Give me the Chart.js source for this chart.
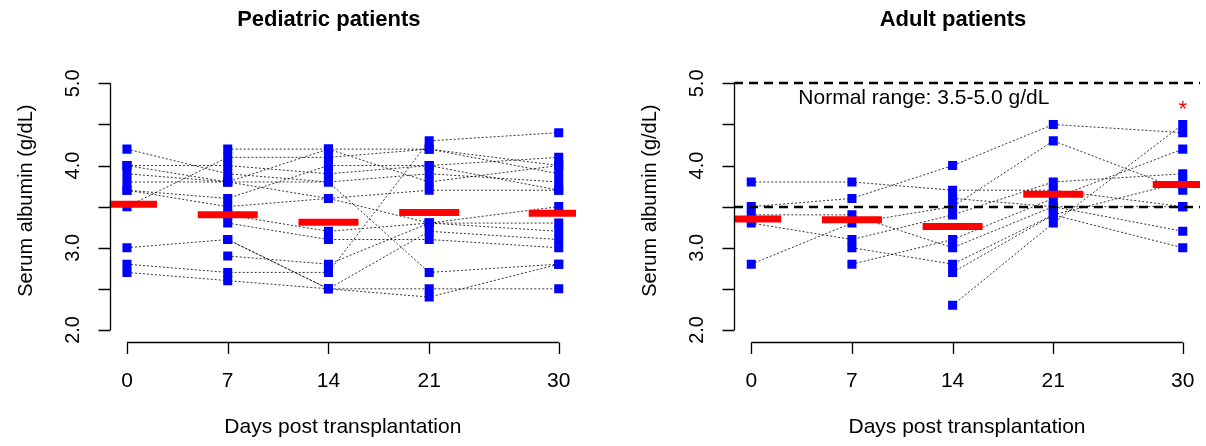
<!DOCTYPE html>
<html>
<head>
<meta charset="utf-8">
<script src="https://cdn.jsdelivr.net/npm/chart.js@4.4.1/dist/chart.umd.min.js"></script>
<style>
  html, body { margin: 0; padding: 0; background: #ffffff; }
  #wrap { position: relative; width: 1206px; height: 446px; }
  .panel { position: absolute; top: 0; width: 603px; height: 446px; }
</style>
</head>
<body>
<div id="wrap">
  <div class="panel" style="left:0"><canvas id="pedChart" width="603" height="446"></canvas></div>
  <div class="panel" style="left:603px"><canvas id="adultChart" width="603" height="446"></canvas></div>
</div>
<script>
// Sampling days (x axis) and tick labels
const days = [0, 7, 14, 21, 30];
const dayLabels = ["0", "7", "14", "21", "30"];
const yTickValues = [2.0, 2.5, 3.0, 3.5, 4.0, 4.5, 5.0];
const yLabelValues = [2.0, 3.0, 4.0, 5.0];

// Pediatric patients: albumin per day (null = not measured)
const pedPatients = [
  [4.2, 3.9, 3.8, 2.7, 2.8],
  [4.0, 4.0, 3.9, 4.0, 3.7],
  [3.9, 3.8, 3.8, 3.9, 3.8],
  [3.8, 3.8, 3.6, 3.3, 3.3],
  [3.7, 3.5, 3.6, 3.7, 3.7],
  [3.5, 4.1, 4.1, 4.2, 3.9],
  [3.7, 3.6, 4.0, 4.0, 4.1],
  [3.0, 3.1, 2.5, 3.2, 3.1],
  [2.8, 2.7, 2.7, 4.3, 4.4],
  [2.7, 2.6, 2.5, 2.5, 2.5],
  [null, 4.2, 4.2, 4.2, 4.0],
  [null, 3.4, 3.2, 3.3, 3.5],
  [null, 3.3, 3.1, 3.1, 3.0],
  [null, 2.9, 2.8, 3.3, 3.2],
  [4.0, 3.8, 4.2, 3.8, 4.0],
  [null, 3.1, 2.5, 2.4, 2.8]
];
const pedMedians = [3.53, 3.40, 3.31, 3.43, 3.42];

// Adult patients
const adultPatients = [
  [3.8, 3.8, 3.7, 3.7, 3.5],
  [3.5, 3.6, 4.0, 4.5, 4.4],
  [3.3, 3.1, 3.4, 3.8, 3.9],
  [3.4, 3.4, 3.0, 3.5, 3.2],
  [2.8, 3.3, 3.5, 4.3, 3.7],
  [null, 3.0, 2.8, 3.4, 3.0],
  [null, 2.8, 3.1, 3.6, 4.2],
  [null, null, 2.7, 3.4, 3.8],
  [null, null, 2.3, 3.3, 4.5],
  [null, null, 3.6, 3.5, 3.5]
];
const adultMedians = [3.35, 3.34, 3.26, 3.65, 3.77];

// Normal range reference lines + annotations (adult panel)
const normalRange = [3.5, 5.0];
const normalRangeNote = { x: 12, y: 4.82, text: "Normal range: 3.5-5.0 g/dL" };
const starNote = { x: 30, y: 4.75, text: "*" };

const FONT = '"Liberation Sans", Arial, sans-serif';

function toPoints(row) {
  return days.map((d, i) => ({ x: d, y: row[i] })).filter(p => p.y !== null);
}

function buildDatasets(patients, medians) {
  const sets = [];
  // red median bars
  sets.push({
    type: 'scatter',
    data: days.map((d, i) => ({ x: d, y: medians[i] })),
    pointStyle: 'line',
    pointRadius: 30,
    pointHoverRadius: 30,
    pointBorderWidth: 7,
    pointBorderColor: '#ff0000',
    pointBackgroundColor: '#ff0000',
    order: 0,
    clip: 0
  });
  // blue squares
  sets.push({
    type: 'scatter',
    data: patients.flatMap(toPoints),
    pointStyle: 'rect',
    pointRadius: 6.4,
    pointHoverRadius: 6.4,
    pointBorderWidth: 0,
    pointBackgroundColor: '#0000ff',
    order: 1,
    clip: 0
  });
  // dotted individual trajectories
  patients.forEach(row => {
    sets.push({
      type: 'line',
      data: toPoints(row),
      borderColor: 'rgba(0,0,0,0.8)',
      borderWidth: 1,
      borderDash: [2, 2],
      pointRadius: 0,
      fill: false,
      tension: 0,
      order: 2,
      clip: 0
    });
  });
  return sets;
}

// Base R style axes, titles and labels drawn from the chart scales
function rDecor(cfg) {
  return {
    id: 'rDecor',
    afterDatasetsDraw(chart) {
      if (!cfg.refLines) return;
      const { ctx, chartArea: a, scales: { y } } = chart;
      ctx.save();
      ctx.beginPath();
      ctx.rect(a.left, a.top, a.right - a.left, a.bottom - a.top);
      ctx.clip();
      ctx.strokeStyle = '#000000';
      ctx.lineWidth = 2.5;
      ctx.setLineDash([9, 6]);
      cfg.refLines.forEach(v => {
        const py = Math.round(y.getPixelForValue(v));
        ctx.beginPath();
        ctx.moveTo(a.left, py);
        ctx.lineTo(a.right, py);
        ctx.stroke();
      });
      ctx.restore();
    },
    afterDraw(chart) {
      const { ctx, chartArea: a, scales: { x, y } } = chart;
      ctx.save();
      ctx.strokeStyle = '#000000';
      ctx.fillStyle = '#000000';
      ctx.lineWidth = 1.3;

      // y axis
      const ax = Math.round(a.left) + 0.5;
      ctx.beginPath();
      ctx.moveTo(ax, y.getPixelForValue(yTickValues[0]));
      ctx.lineTo(ax, y.getPixelForValue(yTickValues[yTickValues.length - 1]));
      yTickValues.forEach(v => {
        const py = Math.round(y.getPixelForValue(v)) + 0.5;
        ctx.moveTo(ax, py);
        ctx.lineTo(ax - 12, py);
      });
      ctx.stroke();

      ctx.font = '20px ' + FONT;
      ctx.textAlign = 'center';
      ctx.textBaseline = 'middle';
      yLabelValues.forEach(v => {
        ctx.save();
        ctx.translate(ax - 37, y.getPixelForValue(v));
        ctx.rotate(-Math.PI / 2);
        ctx.fillText(v.toFixed(1), 0, 0);
        ctx.restore();
      });
      ctx.save();
      ctx.translate(ax - 84, (a.top + a.bottom) / 2 - 6);
      ctx.rotate(-Math.PI / 2);
      ctx.fillText(cfg.yTitle, 0, 0);
      ctx.restore();

      // x axis
      const ay = Math.round(a.bottom + 2) + 0.5;
      ctx.beginPath();
      ctx.moveTo(x.getPixelForValue(days[0]), ay);
      ctx.lineTo(x.getPixelForValue(days[days.length - 1]), ay);
      days.forEach(d => {
        const px = Math.round(x.getPixelForValue(d)) + 0.5;
        ctx.moveTo(px, ay);
        ctx.lineTo(px, ay + 11.5);
      });
      ctx.stroke();

      ctx.font = '21px ' + FONT;
      ctx.textBaseline = 'alphabetic';
      days.forEach((d, i) => {
        ctx.fillText(dayLabels[i], x.getPixelForValue(d), 387);
      });
      const cx = (a.left + a.right) / 2;
      ctx.fillText(cfg.xTitle, cx, 433);

      // main title (sits a little left of the plot centre in the original)
      ctx.font = 'bold 22px ' + FONT;
      ctx.fillText(cfg.title, cx - 14, 26);

      // annotations
      if (cfg.note) {
        ctx.font = '21px ' + FONT;
        ctx.textBaseline = 'middle';
        ctx.fillText(cfg.note.text, x.getPixelForValue(cfg.note.x), y.getPixelForValue(cfg.note.y));
      }
      if (cfg.star) {
        ctx.font = '22px ' + FONT;
        ctx.fillStyle = '#ff0000';
        ctx.textBaseline = 'alphabetic';
        ctx.fillText(cfg.star.text, x.getPixelForValue(cfg.star.x), y.getPixelForValue(cfg.star.y) + 12.5);
      }
      ctx.restore();
    }
  };
}

function makeChart(id, patients, medians, padLeft, padRight, decor) {
  return new Chart(document.getElementById(id), {
    data: { datasets: buildDatasets(patients, medians) },
    options: {
      responsive: false,
      animation: false,
      events: [],
      layout: { autoPadding: false, padding: { left: padLeft, right: padRight, top: 73.5, bottom: 106.2 } },
      plugins: { legend: { display: false }, tooltip: { enabled: false }, title: { display: false } },
      scales: {
        x: { type: 'linear', min: -1.2, max: 31.2, display: false },
        y: { type: 'linear', min: 1.88, max: 5.12, display: false }
      }
    },
    plugins: [rDecor(decor)]
  });
}

makeChart('pedChart', pedPatients, pedMedians, 109.7, 27, {
  title: 'Pediatric patients',
  yTitle: 'Serum albumin (g/dL)',
  xTitle: 'Days post transplantation'
});

makeChart('adultChart', adultPatients, adultMedians, 131, 6, {
  title: 'Adult patients',
  yTitle: 'Serum albumin (g/dL)',
  xTitle: 'Days post transplantation',
  refLines: normalRange,
  note: normalRangeNote,
  star: starNote
});
</script>
</body>
</html>
